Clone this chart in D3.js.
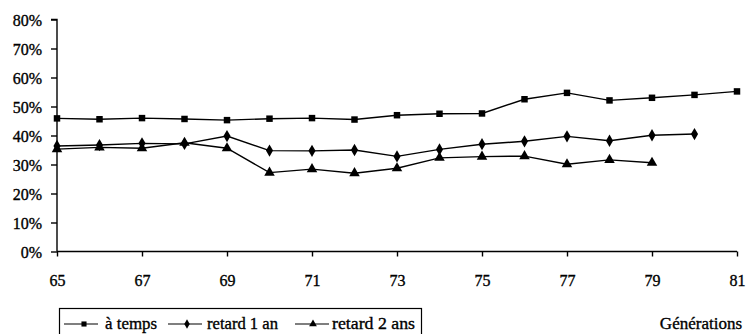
<!DOCTYPE html>
<html><head><meta charset="utf-8">
<script src="https://cdn.jsdelivr.net/npm/d3@7"></script>
<style>body{margin:0;background:#fff}svg{display:block}text{font-family:"Liberation Serif","Times New Roman",serif;fill:#000;stroke:#000;stroke-width:0.35px}</style>
</head><body><svg id="c" width="747" height="334"></svg>
<script>
const years = [65,66,67,68,69,70,71,72,73,74,75,76,77,78,79,80,81];
const aTemps = [45.9,45.6,46.0,45.7,45.3,45.8,46.0,45.5,47.0,47.5,47.6,52.5,54.7,52.1,53.0,54.0,55.2];
const retard1 = [36.4,36.7,37.3,37.1,39.8,34.8,34.7,35.0,32.8,35.2,37.0,38.0,39.7,38.2,40.1,40.5];
const retard2 = [35.3,35.9,35.6,37.5,35.6,27.2,28.4,27.0,28.7,32.3,32.7,32.9,30.1,31.6,30.6];
const yTicks = [0,10,20,30,40,50,60,70,80];
const xTicks = [65,67,69,71,73,75,77,79,81];
const seriesNames = ["à temps","retard 1 an","retard 2 ans"];
const xTitle = "Générations";

const svg = d3.select("#c");
const x = d3.scaleLinear().domain([65,81]).range([57,737]);
const y = d3.scaleLinear().domain([0,80]).range([251.5,19.5]);

// y axis
const ya = svg.append("g").attr("transform","translate(57,0)")
  .call(d3.axisLeft(y).tickValues(yTicks).tickFormat(d=>d+"%").tickSize(6).tickPadding(9));
ya.select(".domain").attr("d",`M-6,${y(80)}H0V${y(0)}`).attr("stroke","#000").attr("stroke-width",1.4);
ya.selectAll("line").attr("stroke","#000").attr("stroke-width",1.4);
ya.selectAll("text").style("font-size","16px").attr("dy","0.35em");

// x axis
const xa = svg.append("g").attr("transform",`translate(0,${y(0)})`)
  .call(d3.axisBottom(x).tickValues(xTicks).tickFormat(d=>d).tickSize(5).tickPadding(18));
xa.select(".domain").attr("d",`M57,0H737`).attr("stroke","#000").attr("stroke-width",1.4);
xa.selectAll("line").attr("stroke","#000").attr("stroke-width",1.4);
xa.selectAll("text").style("font-size","16px");

const line = d3.line().x((d,i)=>x(years[i])).y(d=>y(d));
const sym = [d3.symbolSquare, d3.symbolDiamond, d3.symbolTriangle];
const sizes = [42, 44, 48];
const data = [aTemps, retard1, retard2];

data.forEach((s,k)=>{
  svg.append("path").datum(s).attr("d",line).attr("fill","none").attr("stroke","#000").attr("stroke-width",1.4);
  svg.append("g").selectAll("path").data(s).join("path")
    .attr("transform",(d,i)=>`translate(${x(years[i])},${y(d)})`)
    .attr("d",d3.symbol().type(sym[k]).size(sizes[k])).attr("fill","#000");
});

// legend
const lg = svg.append("g");
lg.append("rect").attr("x",59.5).attr("y",308.5).attr("width",362).attr("height",30)
  .attr("fill","none").attr("stroke","#000").attr("stroke-width",1.2);
const lx = [64,168,295];
const mx = [84,187,313];
const tx = [105,207,332];
const tw = [52,71,83];
seriesNames.forEach((n,k)=>{
  lg.append("line").attr("x1",lx[k]).attr("x2",lx[k]+34).attr("y1",324).attr("y2",324).attr("stroke","#000").attr("stroke-width",1.2);
  lg.append("path").attr("transform",`translate(${mx[k]},324)`).attr("d",d3.symbol().type(sym[k]).size(26)).attr("fill","#000");
  lg.append("text").attr("x",tx[k]).attr("y",329).style("font-size","17px")
    .attr("textLength",tw[k]).attr("lengthAdjust","spacingAndGlyphs").text(n);
});
svg.append("text").attr("x",742).attr("y",329).attr("text-anchor","end").style("font-size","17px").text(xTitle);
</script></body></html>
